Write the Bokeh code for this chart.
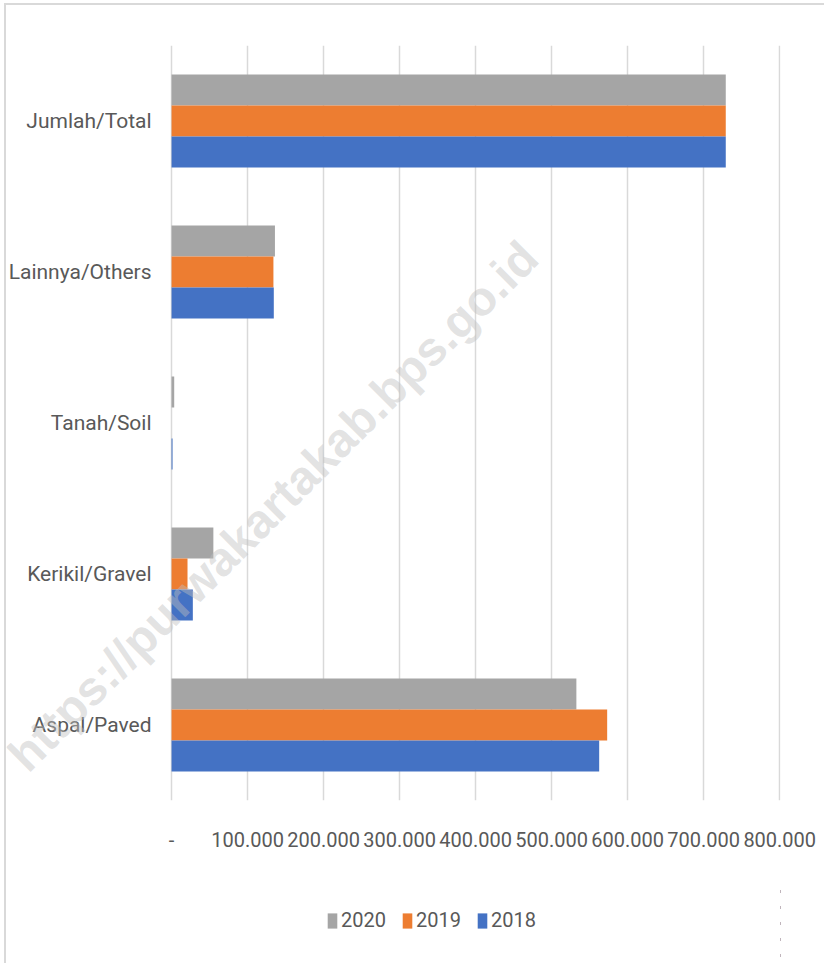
from bokeh.plotting import figure
from bokeh.layouts import column
from bokeh.models import (FactorRange, Range1d, FixedTicker, Legend, LegendItem,
                          Label, ColumnDataSource, CategoricalAxis)
from bokeh.transform import dodge
from bokeh.embed import file_html
from bokeh.resources import INLINE

# ---- data ----
categories = ["Aspal/Paved", "Kerikil/Gravel", "Tanah/Soil", "Lainnya/Others", "Jumlah/Total"]
v2020 = [532500, 55000, 3500, 136000, 729000]
v2019 = [573000, 21000, 0, 134000, 729000]
v2018 = [562500, 28000, 1300, 134500, 729000]
years = ["2020", "2019", "2018"]
colors = ["#A5A5A5", "#ED7D31", "#4472C4"]
tick_values = [0, 100000, 200000, 300000, 400000, 500000, 600000, 700000, 800000]
tick_labels = ["-", "100.000", "200.000", "300.000", "400.000", "500.000",
               "600.000", "700.000", "800.000"]
watermark = "https://purwakartakab.bps.go.id"

FONT = "Roboto"
TXT = "#595959"
BORDER = "2px solid #d9d9d9"

source = ColumnDataSource(dict(cat=categories, v2020=v2020, v2019=v2019, v2018=v2018))
fields = ["v2020", "v2019", "v2018"]

# main chart: frame reaches to the left edge so the watermark is not clipped;
# the category axis is pinned at x = 0
p = figure(width=820, height=880,
           y_range=FactorRange(*categories), x_range=Range1d(-217100, 801000),
           y_axis_location=None,
           output_backend="svg", toolbar_location=None,
           min_border_left=0, min_border_right=46,
           min_border_top=40, min_border_bottom=85)
p.margin = (3, 0, 0, 4)
p.styles = {"border-left": BORDER, "border-top": BORDER}

p.outline_line_color = None
p.background_fill_color = "white"
p.border_fill_color = "white"
p.ygrid.grid_line_color = None
p.xgrid.grid_line_color = "#d9d9d9"
p.xgrid.grid_line_width = 1.5

yax = CategoricalAxis(fixed_location=0)
p.add_layout(yax, "left")

p.xaxis.ticker = FixedTicker(ticks=tick_values)
p.xaxis.major_label_overrides = dict(zip(tick_values, tick_labels))
for ax in (p.xaxis[0], yax):
    ax.axis_line_color = None
    ax.major_tick_line_color = None
    ax.minor_tick_line_color = None
    ax.major_tick_out = 0
    ax.major_tick_in = 0
    ax.major_label_text_font = FONT
    ax.major_label_text_color = TXT
p.xaxis.major_label_text_font_size = "20px"
yax.major_label_text_font_size = "21px"
p.xaxis.major_label_standoff = 31
yax.major_label_standoff = 20

bar_h = 0.205
offsets = [bar_h, 0.0, -bar_h]
for f, off, c in zip(fields, offsets, colors):
    p.hbar(y=dodge("cat", off, range=p.y_range), left=0, right=f, height=bar_h,
           fill_color=c, line_color=None, source=source)

# watermark
wm = Label(x=133500, y=1.95, text=watermark,
           angle=45, angle_units="deg", text_align="center", text_baseline="middle",
           text_font="Liberation Sans", text_font_style="bold", text_font_size="48px",
           text_color="#bfbfbf", text_alpha=0.45)
p.add_layout(wm)

# legend strip underneath (its bars lie outside its visible range)
p2 = figure(width=820, height=80, x_axis_location=None, y_axis_location=None,
            y_range=FactorRange(*categories), x_range=Range1d(-2, -1),
            output_backend="svg", toolbar_location=None,
            min_border_left=0, min_border_right=0, min_border_top=0, min_border_bottom=0)
p2.margin = (0, 0, 0, 4)
p2.styles = {"border-left": BORDER}
p2.outline_line_color = None
p2.xgrid.grid_line_color = None
p2.ygrid.grid_line_color = None
legend_renderers = [p2.hbar(y="cat", right=f, left=0, height=0.2, fill_color=c,
                            line_color=None, source=source)
                    for f, c in zip(fields, colors)]
legend = Legend(items=[LegendItem(label=y, renderers=[r])
                       for y, r in zip(years, legend_renderers)],
                orientation="horizontal", location=(320, 31),
                glyph_width=12, glyph_height=19, label_height=19,
                label_standoff=3, spacing=15, padding=0, margin=0,
                border_line_color=None, background_fill_alpha=0,
                label_text_font=FONT, label_text_font_size="20px",
                label_text_color=TXT)
p2.add_layout(legend)

open("out.html", "w").write(file_html(column(p, p2, spacing=0), INLINE))
